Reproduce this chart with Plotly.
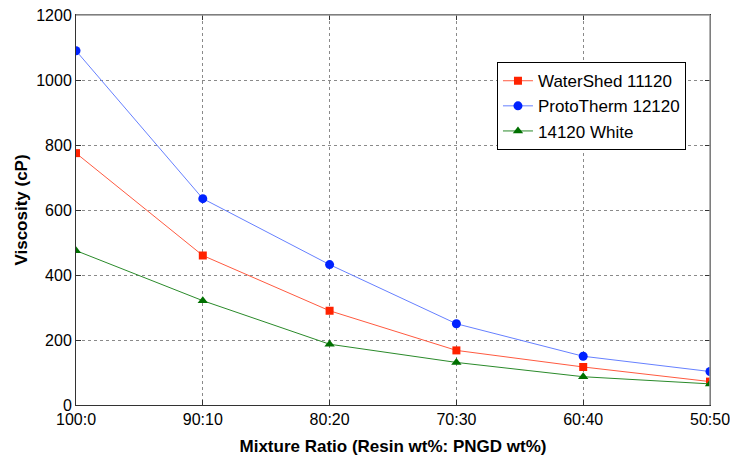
import plotly.graph_objects as go

categories = ["100:0", "90:10", "80:20", "70:30", "60:40", "50:50"]
watershed = [775, 460, 290, 168, 117, 72]
prototherm = [1090, 635, 432, 250, 150, 103]
white14120 = [475, 321, 187, 131, 87, 65]
y_ticks = [0, 200, 400, 600, 800, 1000, 1200]

fig = go.Figure()
fig.add_trace(go.Scatter(x=categories, y=watershed, name="WaterShed 11120", mode="lines+markers",
                         line=dict(color="#ff5a40", width=1),
                         marker=dict(symbol="square", size=8, color="#ff2200")))
fig.add_trace(go.Scatter(x=categories, y=prototherm, name="ProtoTherm 12120", mode="lines+markers",
                         line=dict(color="#6680ff", width=1),
                         marker=dict(symbol="circle", size=9, color="#0022ff")))
fig.add_trace(go.Scatter(x=categories, y=white14120, name="14120 White", mode="lines+markers",
                         line=dict(color="#2a8a2a", width=1),
                         marker=dict(symbol="triangle-up", size=9, color="#007000")))

axis_font = dict(family="Liberation Sans, Arial, sans-serif", size=16, color="black")
fig.update_layout(
    width=730, height=457,
    margin=dict(l=76, r=20, t=15, b=52),
    paper_bgcolor="white", plot_bgcolor="white",
    font=axis_font,
    xaxis=dict(type="category", categoryorder="array", categoryarray=categories,
               range=[0, 5], showgrid=True, gridcolor="#8a8a8a", griddash="dot", gridwidth=1,
               showline=True, linecolor="#333333", linewidth=1, mirror="ticks",
               ticks="inside", ticklen=5, tickcolor="#333333", zeroline=False,
               automargin=False,
               title=dict(text="<b>Mixture Ratio (Resin wt%: PNGD wt%)</b>", standoff=12,
                          font=dict(size=17))),
    yaxis=dict(range=[0, 1200], tickvals=y_ticks, showgrid=True, gridcolor="#8a8a8a",
               griddash="dot", gridwidth=1, showline=True, linecolor="#333333", linewidth=1,
               mirror="ticks", ticks="inside", ticklen=5, tickcolor="#333333", zeroline=False,
               automargin=False,
               title=dict(text="<b>Viscosity (cP)</b>", standoff=4, font=dict(size=17))),
    legend=dict(x=0.664, y=0.879, xanchor="left", yanchor="top", bgcolor="white",
                bordercolor="black", borderwidth=1, font=dict(size=17),
                tracegroupgap=0, itemwidth=30),
    showlegend=True,
)
fig.add_shape(type="line", xref="paper", yref="paper", x0=0, x1=1, y0=1, y1=1,
              line=dict(color="#999999", width=1.5))
fig.add_shape(type="line", xref="paper", yref="paper", x0=1, x1=1, y0=0, y1=1,
              line=dict(color="#999999", width=1.5))
fig.write_html("out.html", config={"displayModeBar": False},
               post_script="document.body.style.margin='0';document.body.style.padding='0';")
